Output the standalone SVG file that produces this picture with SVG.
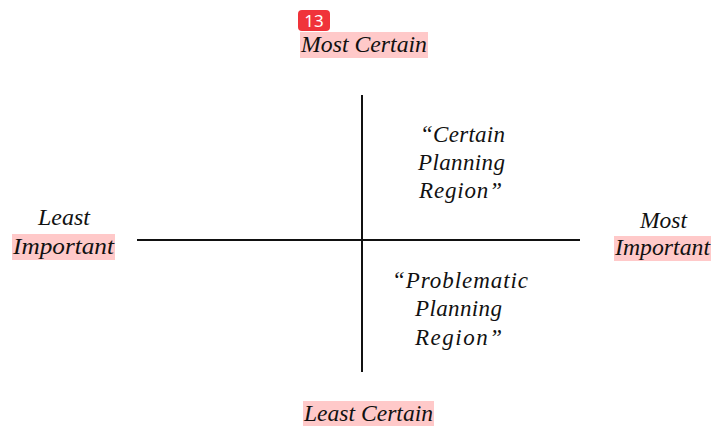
<svg xmlns="http://www.w3.org/2000/svg" width="712" height="426" viewBox="0 0 712 426">
<style>
.hl{fill:#ffc9c9}
.ax{stroke:#111;stroke-width:2;fill:none}
</style>
<rect width="712" height="426" fill="#fff"/>
<g id="connectors">
<line class="ax" x1="362" y1="95" x2="362" y2="372"/>
<line class="ax" x1="137" y1="240" x2="580" y2="240"/>
</g>
<g font-family="Liberation Serif, Times New Roman, serif" font-style="italic" font-size="23" fill="#111">
<g id="top">
<rect class="hl" x="300" y="32" width="128" height="26"/>
<text x="301" y="52" textLength="126" lengthAdjust="spacingAndGlyphs">Most Certain</text>
</g>
<g id="bottom">
<rect class="hl" x="303" y="401" width="131" height="25"/>
<text x="304" y="421" textLength="129" lengthAdjust="spacingAndGlyphs">Least Certain</text>
</g>
<g id="left">
<text x="38" y="225" textLength="52" lengthAdjust="spacingAndGlyphs">Least</text>
<rect class="hl" x="12" y="234" width="103" height="26"/>
<text x="13" y="254" textLength="101" lengthAdjust="spacingAndGlyphs">Important</text>
</g>
<g id="right">
<text x="640" y="228" textLength="47" lengthAdjust="spacingAndGlyphs">Most</text>
<rect class="hl" x="614" y="236" width="97" height="25"/>
<text x="615" y="255" textLength="95" lengthAdjust="spacingAndGlyphs">Important</text>
</g>
<g id="certain">
<text x="420" y="142" textLength="85" lengthAdjust="spacing">“Certain</text>
<text x="418" y="170" textLength="87" lengthAdjust="spacing">Planning</text>
<text x="419" y="198" textLength="83" lengthAdjust="spacing">Region”</text>
</g>
<g id="problematic">
<text x="392" y="288" textLength="136" lengthAdjust="spacing">“Problematic</text>
<text x="415" y="316" textLength="87" lengthAdjust="spacing">Planning</text>
<text x="415" y="345" textLength="87" lengthAdjust="spacing">Region”</text>
</g>
</g>
<g id="badge">
<rect x="298" y="10" width="32" height="21" rx="4" fill="#f0333a"/>
<text x="314" y="27" text-anchor="middle" font-family="Noto Sans, sans-serif" font-size="17" fill="#fff">13</text>
</g>
</svg>
